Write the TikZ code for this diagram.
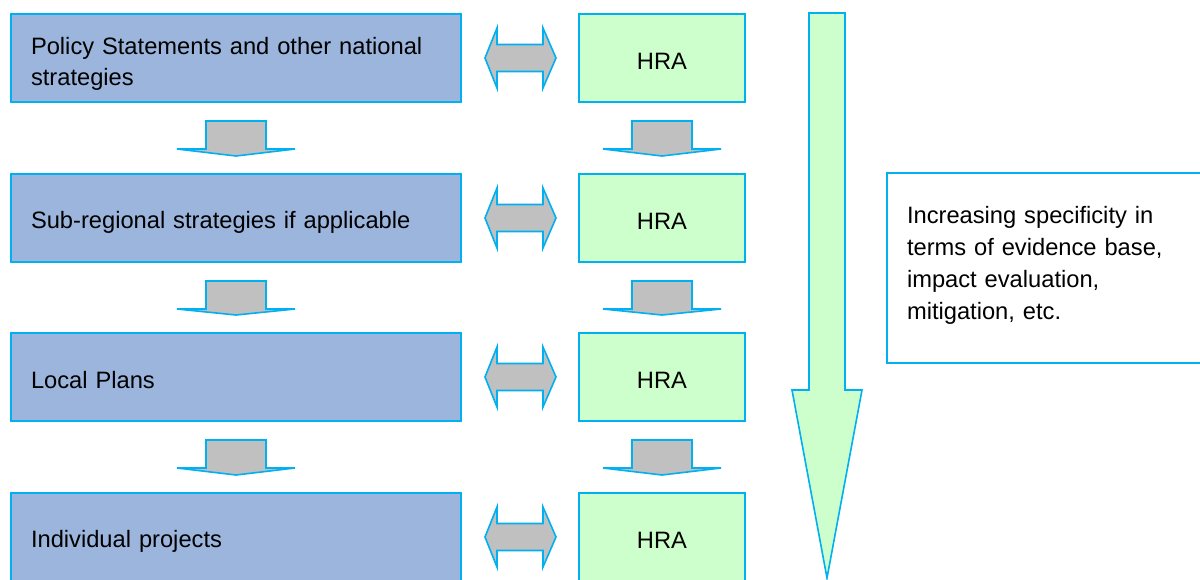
\documentclass[tikz,border=0pt]{standalone}
\usepackage{fontspec}
\setmainfont{Liberation Sans}
\usetikzlibrary{calc}
\definecolor{edge}{RGB}{0,176,240}
\definecolor{bluefill}{RGB}{155,181,221}
\definecolor{greenfill}{RGB}{204,255,204}
\definecolor{grayfill}{RGB}{192,192,192}
\newcommand{\lowstrut}{\rule[-3pt]{0pt}{29pt}}
\tikzset{
  bluebox/.style={draw=edge, fill=bluefill, line width=2pt, anchor=north west,
    text width=410pt, inner xsep=20pt, inner ysep=0pt, minimum height=88pt, align=left,
    font=\fontsize{23.7}{31}\selectfont},
  hrabox/.style={draw=edge, fill=greenfill, line width=2pt, anchor=north west,
    minimum width=166pt, minimum height=88pt, inner sep=0pt,
    font=\fontsize{23.7}{31}\selectfont},
  notebox/.style={draw=edge, fill=white, line width=2pt, anchor=north west,
    text width=300pt, inner xsep=20pt, inner ysep=0pt, minimum height=190pt, align=left,
    font=\fontsize{23.7}{32}\selectfont},
  grayarrow/.style={draw=edge, fill=grayfill, line width=1.6pt, line join=miter},
  bigarrow/.style={draw=edge, fill=greenfill, line width=1.6pt, line join=miter}
}
\newcommand{\downarr}[2]{%
  \draw[grayarrow] ($(#1.south)+(-30,18)$) -- ($(#1.south)+(30,18)$) -- ($(#1.south)+(30,46)$)
    -- ($(#1.south)+(59,46)$) -- ($(#2.north)+(0,-17)$) -- ($(#1.south)+(-59,46)$)
    -- ($(#1.south)+(-30,46)$) -- cycle;}
\newcommand{\duoarr}[2]{%
  \draw[grayarrow] ($(#1.east)+(23,0)$) -- ($(#1.east)+(35,-30)$) -- ($(#1.east)+(35,-13.5)$)
    -- ($(#2.west)+(-35,-13.5)$) -- ($(#2.west)+(-35,-30)$) -- ($(#2.west)+(-22,0)$)
    -- ($(#2.west)+(-35,30)$) -- ($(#2.west)+(-35,13.5)$) -- ($(#1.east)+(35,13.5)$)
    -- ($(#1.east)+(35,30)$) -- cycle;}
\begin{document}
\begin{tikzpicture}[x=1pt,y=-1pt]
\useasboundingbox (0,0) rectangle (1200,579);
\node[bluebox] (p1) at (10,13) {\rule{0pt}{29pt}Policy Statements and other national\\strategies};
\node[bluebox] (p2) at (10,173) {\lowstrut Sub-regional strategies if applicable};
\node[bluebox] (p3) at (10,332) {\lowstrut Local Plans};
\node[bluebox] (p4) at (10,492) {\lowstrut Individual projects};
\node[hrabox] (h1) at (578,13) {\lowstrut HRA};
\node[hrabox] (h2) at (578,173) {\lowstrut HRA};
\node[hrabox] (h3) at (578,332) {\lowstrut HRA};
\node[hrabox] (h4) at (578,492) {\lowstrut HRA};
\downarr{p1}{p2}
\downarr{p2}{p3}
\downarr{p3}{p4}
\downarr{h1}{h2}
\downarr{h2}{h3}
\downarr{h3}{h4}
\duoarr{p1}{h1}
\duoarr{p2}{h2}
\duoarr{p3}{h3}
\duoarr{p4}{h4}
\coordinate (bt) at (827,13);
\coordinate (bb) at (827,578);
\draw[bigarrow] ($(bt)+(-18,0)$) -- ($(bt)+(18,0)$) -- ($(bt)+(18,377)$) -- ($(bt)+(35,377)$)
  -- (bb) -- ($(bt)+(-35,377)$) -- ($(bt)+(-18,377)$) -- cycle;
\node[notebox] (n) at (886,172) {Increasing specificity in\\terms of evidence base,\\impact evaluation,\\mitigation, etc.\rule[-11pt]{0pt}{0pt}};
\end{tikzpicture}
\end{document}
